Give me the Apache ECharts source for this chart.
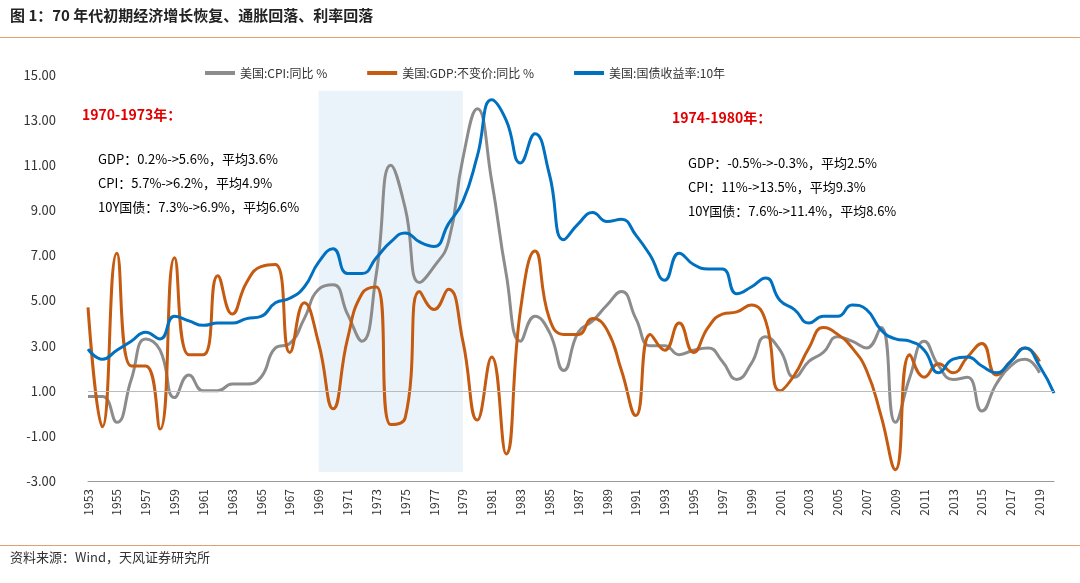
<!DOCTYPE html><html><head><meta charset="utf-8"><script src="https://cdn.jsdelivr.net/npm/echarts@6/dist/echarts.min.js"></script></head><body style="margin:0"><div id="c" style="width:1080px;height:583px"></div><script>
const years=[];for(let y=1953;y<=2020;y++)years.push(String(y));
const cpi=[0.75,0.75,-0.4,1.5,3.3,2.8,0.7,1.7,1.0,1.0,1.3,1.3,1.6,2.9,3.1,4.2,5.5,5.7,4.4,3.2,6.2,11.0,9.1,5.8,6.5,7.6,11.3,13.5,10.3,6.2,3.2,4.3,3.6,1.9,3.6,4.1,4.8,5.4,4.2,3.0,3.0,2.6,2.8,2.9,2.3,1.5,2.2,3.4,2.8,1.6,2.3,2.7,3.4,3.2,2.9,3.8,-0.4,1.6,3.2,2.1,1.5,1.6,0.1,1.3,2.1,2.4,1.8];
const gdp=[4.7,-0.6,7.1,2.1,2.1,-0.7,6.9,2.6,2.6,6.1,4.4,5.8,6.5,6.6,2.7,4.9,3.1,0.2,3.3,5.3,5.6,-0.5,-0.2,5.4,4.6,5.5,3.2,-0.3,2.5,-1.8,4.6,7.2,4.2,3.5,3.5,4.2,3.7,1.9,-0.1,3.5,2.8,4.0,2.7,3.8,4.4,4.5,4.8,4.1,1.0,1.7,2.9,3.8,3.5,2.9,1.9,-0.1,-2.5,2.6,1.6,2.2,1.8,2.5,3.1,1.7,2.3,2.9,2.3];
const y10=[2.85,2.4,2.8,3.2,3.6,3.3,4.3,4.1,3.9,4.0,4.0,4.2,4.3,4.9,5.1,5.6,6.7,7.3,6.2,6.2,6.9,7.6,8.0,7.6,7.4,8.4,9.4,11.4,13.9,13.0,11.1,12.4,10.6,7.7,8.4,8.9,8.5,8.6,7.9,7.0,5.9,7.1,6.6,6.4,6.4,5.3,5.6,6.0,5.0,4.6,4.0,4.3,4.3,4.8,4.6,3.7,3.3,3.2,2.8,1.8,2.4,2.5,2.1,1.8,2.3,2.9,2.1,0.9];
const names=['美国:CPI:同比 %','美国:GDP:不变价:同比 %','美国:国债收益率:10年'];
const F='"Noto Sans CJK SC","Noto Sans",sans-serif';
const txt=(x,y,s,o)=>Object.assign({type:'text',left:x,top:y,style:Object.assign({text:s,fontSize:13,fill:'#000',fontFamily:F},o||{})});
const ch=echarts.init(document.getElementById('c'));
ch.setOption({
 animation:false,
 textStyle:{fontFamily:F},
 legend:{top:62,left:200,itemGap:40,itemWidth:30,textStyle:{fontSize:12,color:'#333'},icon:'rect',itemHeight:4,data:names},
 grid:{left:88,right:26,top:75,bottom:102},
 xAxis:{type:'category',data:years,boundaryGap:false,axisLine:{onZero:false,lineStyle:{color:'#999'}},axisTick:{show:false},axisLabel:{rotate:90,interval:1,fontSize:12,color:'#333'}},
 yAxis:{type:'value',min:-3,max:15,interval:2,axisLabel:{formatter:v=>v.toFixed(2),fontSize:13,color:'#333',margin:32},splitLine:{show:false},axisLine:{show:false},axisTick:{show:false}},
 series:[
  {name:names[0],type:'line',data:cpi,smooth:true,showSymbol:false,lineStyle:{width:3,color:'#8c8c8c'},itemStyle:{color:'#8c8c8c'},
   markArea:{silent:true,itemStyle:{color:'rgba(221,235,247,0.6)'},data:[[{xAxis:'1969',yAxis:-2.6},{xAxis:'1979',yAxis:14.3}]]},
   markLine:{silent:true,symbol:'none',label:{show:false},lineStyle:{color:'#bbb',type:'solid',width:1},data:[{yAxis:1}]}},
  {name:names[1],type:'line',data:gdp,smooth:true,showSymbol:false,lineStyle:{width:3,color:'#c55a11'},itemStyle:{color:'#c55a11'}},
  {name:names[2],type:'line',data:y10,smooth:true,showSymbol:false,lineStyle:{width:3,color:'#0070c0'},itemStyle:{color:'#0070c0'}}
 ],
 graphic:[
  txt(10,8,'图 1：70 年代初期经济增长恢复、通胀回落、利率回落',{fontSize:15,fontWeight:'bold',fill:'#222'}),
  {type:'rect',left:0,top:37,shape:{width:1080,height:1},style:{fill:'#e0a070'}},
  {type:'rect',left:0,top:545,shape:{width:1080,height:1},style:{fill:'#e0a070'}},
  txt(10,551,'资料来源：Wind，天风证券研究所',{fontSize:13,fill:'#333'}),
  txt(82,108,'1970-1973年：',{fill:'#e00000',fontWeight:'bold',fontSize:14}),
  txt(98,153,'GDP：0.2%->5.6%，平均3.6%'),
  txt(98,177,'CPI：5.7%->6.2%，平均4.9%'),
  txt(98,201,'10Y国债：7.3%->6.9%，平均6.6%'),
  txt(672,111,'1974-1980年：',{fill:'#e00000',fontWeight:'bold',fontSize:14}),
  txt(688,157,'GDP：-0.5%->-0.3%，平均2.5%'),
  txt(688,181,'CPI：11%->13.5%，平均9.3%'),
  txt(688,205,'10Y国债：7.6%->11.4%，平均8.6%')
 ]
});
</script></body></html>
